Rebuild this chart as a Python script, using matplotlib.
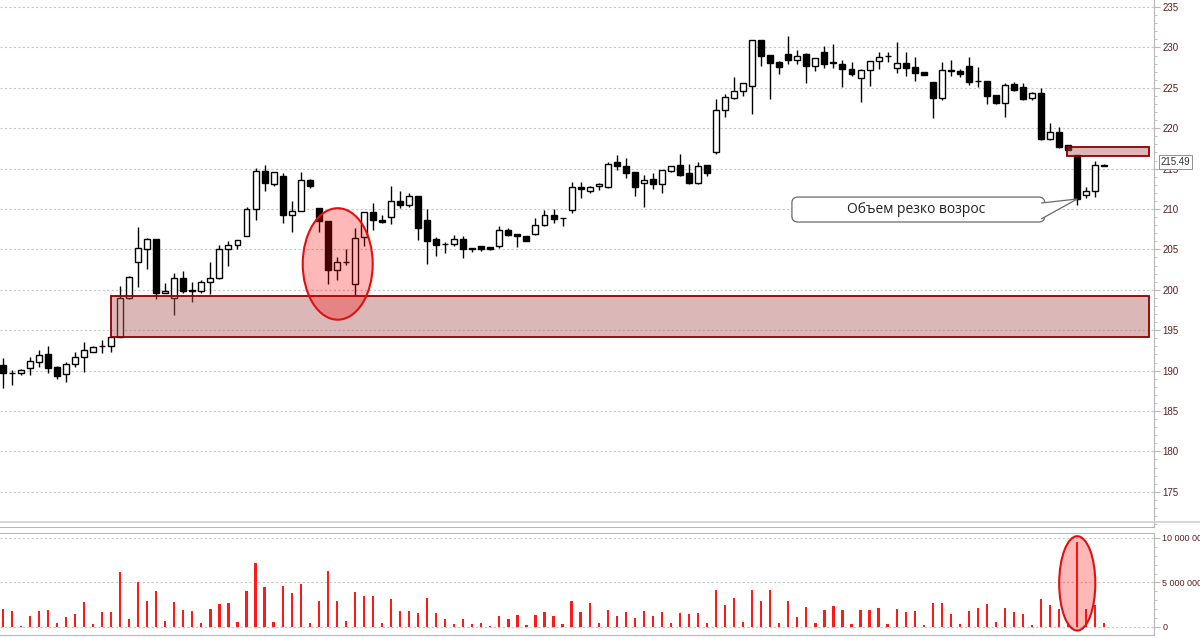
import numpy as np
import matplotlib
matplotlib.use("Agg")
import matplotlib.pyplot as plt
from matplotlib.patches import Rectangle, Ellipse, FancyBboxPatch, Polygon
from matplotlib.ticker import MultipleLocator, FuncFormatter
from matplotlib.lines import Line2D
import matplotlib.transforms as mtransforms

# OHLC
opens = [190.7, 189.7, 189.65, 190.3, 191.1, 192.1, 190.4, 189.6, 190.8, 191.65,
         192.35, 193.0, 193.1, 194.1, 199.0, 203.4, 205.1, 206.3, 199.6, 199.0,
         201.5, 199.9, 199.8, 201.0, 201.5, 205.0, 205.6, 206.6, 210.0, 214.75,
         213.1, 214.05, 209.2, 209.8, 213.6, 210.1, 208.5, 202.5, 203.4, 200.7,
         206.5, 209.6, 208.7, 209.0, 211.0, 210.5, 211.65, 208.6, 206.3, 205.7,
         205.7, 206.3, 205.15, 205.4, 205.35, 205.45, 207.35, 206.95, 206.6, 206.95,
         208.0, 209.3, 208.9, 209.85, 212.75, 212.2, 212.8, 212.75, 215.8, 215.3,
         214.55, 213.2, 213.7, 213.15, 214.67, 215.5, 214.4, 213.2, 215.5, 217.1,
         222.2, 223.8, 224.6, 225.2, 230.9, 229.05, 228.2, 229.15, 228.5, 229.15,
         227.75, 229.4, 228.15, 228.0, 227.35, 226.2, 227.2, 228.3, 228.95, 227.5,
         228.1, 227.6, 226.9, 225.7, 223.7, 227.2, 227.1, 227.75, 225.85, 225.9,
         224.1, 223.1, 225.5, 225.05, 223.7, 224.4, 218.65, 219.5, 217.95, 216.7,
         211.7, 212.2, 215.3]
highs = [191.5, 190.1, 190.2, 191.7, 192.6, 193.1, 190.6, 191.1, 192.3, 193.5,
         193.0, 193.8, 194.3, 200.5, 201.65, 207.8, 206.4, 206.3, 200.9, 202.1,
         202.3, 201.0, 201.2, 203.5, 205.6, 206.0, 206.2, 210.3, 215.1, 215.4,
         214.6, 214.5, 211.0, 214.55, 213.7, 210.1, 208.5, 204.1, 205.0, 207.6,
         209.6, 210.7, 209.2, 212.8, 212.2, 212.0, 211.65, 209.95, 206.5, 205.9,
         206.8, 206.7, 205.2, 205.45, 205.35, 207.9, 207.65, 206.95, 206.6, 208.9,
         209.9, 210.0, 208.9, 213.4, 213.3, 212.8, 213.2, 215.8, 216.65, 216.3,
         214.55, 214.2, 214.45, 214.8, 215.37, 216.85, 215.6, 215.8, 215.5, 223.6,
         224.2, 226.3, 225.55, 230.9, 230.9, 229.05, 228.35, 231.45, 229.7, 229.25,
         228.75, 230.15, 230.4, 228.4, 228.2, 227.3, 228.3, 229.45, 229.45, 230.7,
         229.45, 228.85, 226.9, 225.7, 228.15, 228.45, 227.3, 228.85, 227.6, 225.9,
         224.1, 225.55, 225.75, 225.65, 224.5, 224.95, 220.6, 220.1, 217.95, 216.7,
         212.7, 215.9, 215.6]
lows = [187.8, 188.2, 189.5, 189.5, 190.5, 189.7, 188.9, 188.55, 190.5, 189.8,
        192.3, 192.2, 192.35, 194.1, 198.8, 200.4, 202.6, 198.8, 199.6, 196.9,
        199.6, 198.5, 199.6, 199.5, 201.3, 203.0, 205.1, 206.6, 208.7, 212.2,
        212.9, 208.3, 207.2, 209.7, 212.6, 207.2, 200.7, 201.2, 203.1, 199.2,
        205.4, 207.4, 208.3, 208.1, 210.1, 210.25, 206.2, 203.2, 204.2, 204.5,
        205.45, 203.9, 204.7, 204.85, 204.95, 205.15, 206.6, 205.3, 206.0, 206.8,
        207.85, 208.3, 207.9, 209.5, 211.4, 212.0, 212.4, 212.6, 214.8, 213.85,
        211.65, 210.2, 212.5, 212.0, 214.6, 214.05, 213.1, 213.1, 214.1, 216.8,
        221.45, 223.6, 224.0, 221.8, 227.7, 223.6, 226.65, 227.9, 227.95, 225.6,
        227.1, 227.4, 227.5, 225.15, 226.45, 223.2, 225.2, 227.3, 228.2, 226.8,
        226.45, 225.85, 226.6, 221.3, 223.5, 226.45, 226.3, 225.3, 225.1, 222.95,
        222.95, 221.45, 224.55, 223.5, 223.5, 218.5, 218.5, 217.55, 217.3, 210.55,
        211.4, 211.5, 215.3]
closes = [189.7, 189.65, 190.1, 191.2, 191.9, 190.3, 189.3, 190.8, 191.7, 192.5,
          192.9, 193.05, 194.1, 199.0, 201.6, 205.2, 206.3, 199.6, 199.9, 201.5,
          199.9, 199.95, 201.0, 201.5, 205.0, 205.6, 206.2, 210.0, 214.7, 213.2,
          214.6, 209.2, 209.8, 213.55, 212.8, 208.5, 202.4, 203.4, 203.45, 206.4,
          209.6, 208.7, 208.4, 211.0, 210.5, 211.65, 207.6, 206.1, 205.6, 205.65,
          206.3, 205.0, 205.1, 205.0, 205.05, 207.35, 206.8, 206.6, 206.1, 208.0,
          209.3, 208.75, 208.85, 212.75, 212.5, 212.75, 213.1, 215.6, 215.3, 214.5,
          212.7, 213.55, 213.1, 214.8, 215.37, 214.25, 213.2, 215.37, 214.45, 222.2,
          223.9, 224.6, 225.55, 230.9, 228.9, 228.1, 227.6, 228.45, 228.9, 227.75,
          228.65, 228.0, 228.05, 227.3, 226.7, 227.2, 228.3, 228.85, 229.0, 228.1,
          227.5, 226.8, 226.6, 223.7, 227.2, 227.1, 226.7, 225.75, 225.9, 224.0,
          223.1, 225.3, 224.75, 223.65, 224.3, 218.65, 219.5, 217.65, 217.3, 211.3,
          212.2, 215.5, 215.49]
# volume, millions
volumes = [2.0, 1.84, 0.15, 1.2, 1.8, 1.88, 0.49, 1.09, 1.43, 2.78,
           0.3, 1.73, 1.73, 6.17, 0.94, 5.04, 2.9, 4.02, 0.64, 2.78,
           1.88, 1.8, 0.41, 2.07, 2.59, 2.67, 0.53, 4.02, 7.18, 4.44,
           0.6, 4.62, 3.83, 4.81, 0.41, 2.9, 6.28, 2.9, 0.68, 3.91,
           3.46, 3.46, 0.41, 3.12, 1.77, 1.77, 1.54, 3.31, 1.54, 0.94,
           0.3, 0.86, 0.3, 0.49, 0.15, 1.2, 0.94, 1.39, 0.23, 1.39,
           1.65, 1.2, 0.3, 2.97, 1.65, 2.67, 0.41, 1.92, 1.28, 1.65,
           1.02, 1.8, 1.28, 1.65, 0.41, 1.54, 1.47, 1.54, 0.41, 4.1,
           2.52, 3.31, 0.53, 4.17, 2.9, 4.1, 0.41, 2.97, 1.09, 2.2,
           0.41, 1.92, 2.33, 1.92, 0.3, 1.92, 1.92, 2.18, 0.3, 2.03,
           1.65, 1.8, 0.23, 2.7, 2.7, 1.43, 0.3, 1.8, 2.18, 2.56,
           0.53, 2.1, 1.65, 1.43, 0.23, 3.12, 2.44, 2.03, 0.41, 9.59,
           2.03, 2.52, 0.41]

last_price = 215.49
callout_text = "Объем резко возрос"
price_ticks = list(range(175, 240, 5))
vol_ticks = [0, 5, 10]

label_col = "#5a1e1e"
grid_col = "#c8c8c8"
spine_col = "#b8b8b8"
tick_font = ["Liberation Sans", "DejaVu Sans"]

fig = plt.figure(figsize=(12, 6.38), dpi=100)
ax = fig.add_axes([0.0, 1 - 527 / 638, 1154 / 1200, 527 / 638])
axv = fig.add_axes([0.0, 3 / 638, 1154 / 1200, 102 / 638])

x = np.arange(len(opens))
o = np.array(opens); c = np.array(closes)
h = np.array(highs); l = np.array(lows)
up = c >= o
bw = 0.66

ax.vlines(x, l, h, color="black", lw=1, zorder=2)
bottoms = np.minimum(o, c)
heights = np.maximum(np.abs(c - o), 0.02)
ax.bar(x[up], heights[up], bottom=bottoms[up], width=bw, color="white",
       edgecolor="black", linewidth=1, zorder=3)
ax.bar(x[~up], heights[~up], bottom=bottoms[~up], width=bw, color="black",
       edgecolor="black", linewidth=1, zorder=3)

# support zone and small zone on the right
for x0, y0, y1 in [(11.95, 194.16, 199.23), (117.9, 216.56, 217.67)]:
    ax.add_patch(Rectangle((x0, y0), 127.0 - x0, y1 - y0,
                           facecolor="#b06060", alpha=0.45, edgecolor="none", zorder=4))
    ax.add_patch(Rectangle((x0, y0), 127.0 - x0, y1 - y0,
                           facecolor="none", edgecolor="#8b0000", lw=1.3, zorder=5))

ax.add_patch(Ellipse((37.1, 203.2), 7.75, 13.8, facecolor=(1, 0, 0, 0.28),
                     edgecolor="#e01010", lw=1.5, zorder=6))

# callout
ax.add_patch(FancyBboxPatch((87.4, 208.39), 115.4 - 87.4, 211.48 - 208.39,
                            boxstyle="round,pad=0,rounding_size=0.7",
                            facecolor="white", edgecolor="#6a6a6a", lw=0.9, zorder=7))
ax.add_patch(Polygon([(115.0, 210.74), (119.0, 211.24), (115.0, 208.76)],
                     closed=False, facecolor="white", edgecolor="#6a6a6a", lw=0.9, zorder=8))
ax.text(101.2, 209.95, callout_text, ha="center", va="center", fontsize=10,
        family=["Open Sans", "DejaVu Sans"], color="#222222", zorder=9)

ax.set_xlim(-0.3, 127.5)
ax.set_ylim(170.64, 235.87)
ax.yaxis.tick_right()
ax.set_yticks(price_ticks)
ax.yaxis.set_minor_locator(MultipleLocator(1))
ax.tick_params(axis="y", which="major", length=4, color=spine_col, labelsize=7,
               labelcolor=label_col, pad=2)
ax.tick_params(axis="y", which="minor", length=2, color=spine_col)
for t in ax.get_yticklabels():
    t.set_family(tick_font)
ax.set_xticks([])
ax.grid(axis="y", color=grid_col, linestyle=(0, (2, 2)), lw=0.8)
ax.set_axisbelow(True)
for s in ["left", "top"]:
    ax.spines[s].set_visible(False)
for s in ["right", "bottom"]:
    ax.spines[s].set_color(spine_col)

tr = mtransforms.blended_transform_factory(ax.transAxes, ax.transData)
ax.text(1.006, last_price + 0.3, f"{last_price:.2f}", transform=tr, va="center", ha="left",
        fontsize=7, family=tick_font, color="#333333", clip_on=False, zorder=10,
        bbox=dict(boxstyle="square,pad=0.2", fc="white", ec="#909090", lw=0.7))

# volume panel
axv.bar(x, volumes, width=0.25, color="#ff1a1a", zorder=3)
axv.add_patch(Ellipse((119.0, 4.9), 4.0, 10.6, facecolor=(1, 0, 0, 0.28),
                      edgecolor="#e01010", lw=1.5, zorder=4))
axv.set_xlim(-0.3, 127.5)
axv.set_ylim(-0.9, 10.56)
axv.yaxis.tick_right()
axv.set_yticks(vol_ticks)
axv.yaxis.set_minor_locator(MultipleLocator(1))
axv.yaxis.set_major_formatter(FuncFormatter(
    lambda v, p: f"{int(round(v * 1e6)):,}".replace(",", " ")))
axv.tick_params(axis="y", which="major", length=4, color=spine_col, labelsize=6.5,
                labelcolor=label_col, pad=2)
axv.tick_params(axis="y", which="minor", length=2, color=spine_col)
for t in axv.get_yticklabels():
    t.set_family(tick_font)
axv.set_xticks([])
axv.grid(axis="y", color=grid_col, linestyle=(0, (2, 2)), lw=0.8)
axv.set_axisbelow(True)
axv.spines["left"].set_visible(False)
for s in ["right", "bottom", "top"]:
    axv.spines[s].set_color(spine_col)

fig.add_artist(Line2D([0, 1], [1 - 521.5 / 638] * 2, color="#cfcfcf", lw=1.2))

fig.savefig("out.png", dpi=100)
